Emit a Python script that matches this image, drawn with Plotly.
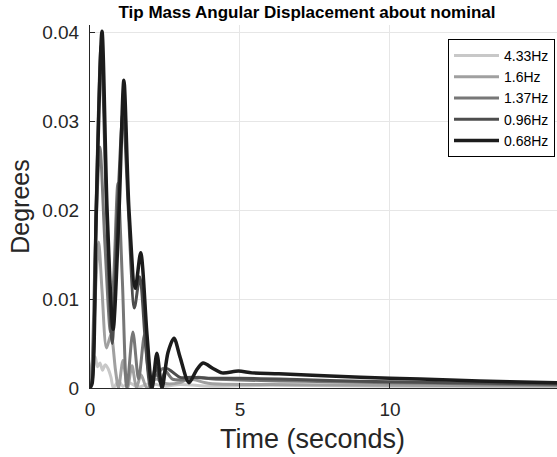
import plotly.graph_objects as go

# Time samples (s) and angular displacement magnitude (deg) for each excitation frequency
t_433 = [0, 0.05, 0.17, 0.25, 0.33, 0.42, 0.5, 0.6, 0.7, 0.78, 0.95, 1.1, 1.3, 1.6, 2.0, 2.5, 3.0, 4.0, 6.0, 10.0, 15.6]
d_433 = [0, 0.0025, 0.0035, 0.0024, 0.0028, 0.002, 0.0026, 0.0022, 0.0012, 0.0, 0.0008, 0.0002, 0.0006, 0.0001, 0.0005, 0.0002, 0.0004, 0.0002, 0.0003, 0.0002, 0.00015]

t_16 = [0, 0.1, 0.2, 0.29, 0.4, 0.55, 0.7, 0.85, 0.95, 1.1, 1.25, 1.4, 1.55, 1.7, 1.9, 2.2, 2.5, 3.0, 3.3, 4.0, 6.0, 10.0, 15.6]
d_16 = [0, 0.004, 0.012, 0.0164, 0.011, 0.0045, 0.006, 0.002, 0.0, 0.0031, 0.0, 0.0025, 0.0, 0.0015, 0.0, 0.001, 0.0005, 0.0006, 0.001, 0.0005, 0.0004, 0.0003, 0.00025]

t_137 = [0, 0.05, 0.18, 0.33, 0.5, 0.68, 0.8, 0.93, 1.08, 1.23, 1.43, 1.62, 1.82, 2.0, 2.2, 2.44, 2.75, 3.1, 3.6, 4.1, 5.0, 6.3, 8.0, 10.0, 12.0, 14.0, 15.6]
d_137 = [0, 0.001, 0.016, 0.0271, 0.016, 0.0063, 0.013, 0.023, 0.012, 0.0, 0.0063, 0.001, 0.006, 0.0012, 0.0014, 0.0022, 0.001, 0.0009, 0.0012, 0.001, 0.0009, 0.0008, 0.0007, 0.0006, 0.0005, 0.0004, 0.00035]

t_096 = [0, 0.08, 0.2, 0.37, 0.55, 0.74, 0.92, 1.1, 1.28, 1.48, 1.66, 1.85, 2.02, 2.2, 2.35, 2.55, 2.75, 3.0, 3.4, 4.0, 5.0, 6.3, 8.0, 10.0, 12.0, 14.0, 15.6]
d_096 = [0, 0.001, 0.02, 0.0385, 0.02, 0.005, 0.02, 0.031, 0.02, 0.009, 0.0125, 0.005, 0.0, 0.0025, 0.0005, 0.0022, 0.0018, 0.0012, 0.0012, 0.0011, 0.0011, 0.001, 0.00085, 0.0007, 0.0006, 0.0005, 0.00045]

t_068 = [0, 0.07, 0.21, 0.4, 0.57, 0.77, 0.97, 1.13, 1.3, 1.51, 1.69, 1.9, 2.07, 2.23, 2.4, 2.6, 2.8, 3.0, 3.3, 3.55, 3.77, 4.1, 4.4, 4.95, 5.4, 6.3, 8.0, 10.0, 12.0, 14.0, 15.6]
d_068 = [0, 0.0005, 0.02, 0.0401, 0.02, 0.0066, 0.02, 0.0346, 0.02, 0.0112, 0.0152, 0.006, 0.0, 0.0039, 0.0, 0.004, 0.0056, 0.0035, 0.0006, 0.002, 0.0028, 0.0022, 0.0017, 0.0019, 0.0017, 0.0016, 0.00135, 0.0011, 0.0009, 0.0007, 0.00058]

series = [
    ("4.33Hz", t_433, d_433, "#c8c8c8", 3),
    ("1.6Hz", t_16, d_16, "#a0a0a0", 3),
    ("1.37Hz", t_137, d_137, "#777777", 3),
    ("0.96Hz", t_096, d_096, "#4d4d4d", 3),
    ("0.68Hz", t_068, d_068, "#1c1c1c", 3.5),
]

x_ticks = [0, 5, 10]
y_ticks = [0, 0.01, 0.02, 0.03, 0.04]

W, H = 557, 457
ML, MR, MT, MB = 90, 0, 25, 69

fig = go.Figure()
for name, t, d, color, lw in series:
    fig.add_trace(go.Scatter(
        x=t, y=d, mode="lines", name=name,
        line=dict(color=color, width=lw, shape="spline", smoothing=0.8),
    ))

font_family = "Liberation Sans, Arial, sans-serif"
axis_color = "#262626"

fig.update_layout(
    width=W, height=H,
    margin=dict(l=ML, r=MR, t=MT, b=MB, pad=0),
    paper_bgcolor="white", plot_bgcolor="white",
    font=dict(family=font_family, color=axis_color),
    title=dict(
        text="<b>Tip Mass Angular Displacement about nominal</b>",
        font=dict(size=17, color="#000000", family=font_family),
        xref="container", yref="container",
        x=307 / W, y=1 - 12 / H, xanchor="center", yanchor="middle",
    ),
    legend=dict(
        x=(555 - ML) / (W - ML - MR), y=(H - MB - 39) / (H - MB - MT),
        xanchor="right", yanchor="top",
        bgcolor="white", bordercolor="#000000", borderwidth=1,
        font=dict(size=14, color="#000000", family=font_family),
        tracegroupgap=0, itemwidth=45,
    ),
    showlegend=True,
)

# x-axis caption, centred under the title column
fig.add_annotation(
    text="Time (seconds)", xref="paper", yref="paper",
    x=(312 - ML) / (W - ML - MR), y=-(439 - (H - MB)) / (H - MB - MT),
    xanchor="center", yanchor="middle", showarrow=False,
    font=dict(size=27, color=axis_color, family=font_family),
)

fig.update_xaxes(
    range=[0, 15.57], tickvals=x_ticks, ticktext=[str(v) for v in x_ticks],
    showgrid=True, gridcolor="#e6e6e6", gridwidth=1,
    showline=True, linecolor=axis_color, linewidth=1,
    ticks="inside", ticklen=5, tickcolor=axis_color,
    tickfont=dict(size=19, color=axis_color), ticklabelstandoff=4,
    zeroline=False,
)
fig.update_yaxes(
    range=[0, 0.0408], tickvals=y_ticks, ticktext=["0", "0.01", "0.02", "0.03", "0.04"],
    showgrid=True, gridcolor="#e6e6e6", gridwidth=1,
    showline=True, linecolor=axis_color, linewidth=1,
    ticks="inside", ticklen=5, tickcolor=axis_color,
    tickfont=dict(size=19, color=axis_color), ticklabelstandoff=6,
    title=dict(text="Degrees", font=dict(size=25, color=axis_color), standoff=5),
    zeroline=False,
)

fig.write_html("out.html")
